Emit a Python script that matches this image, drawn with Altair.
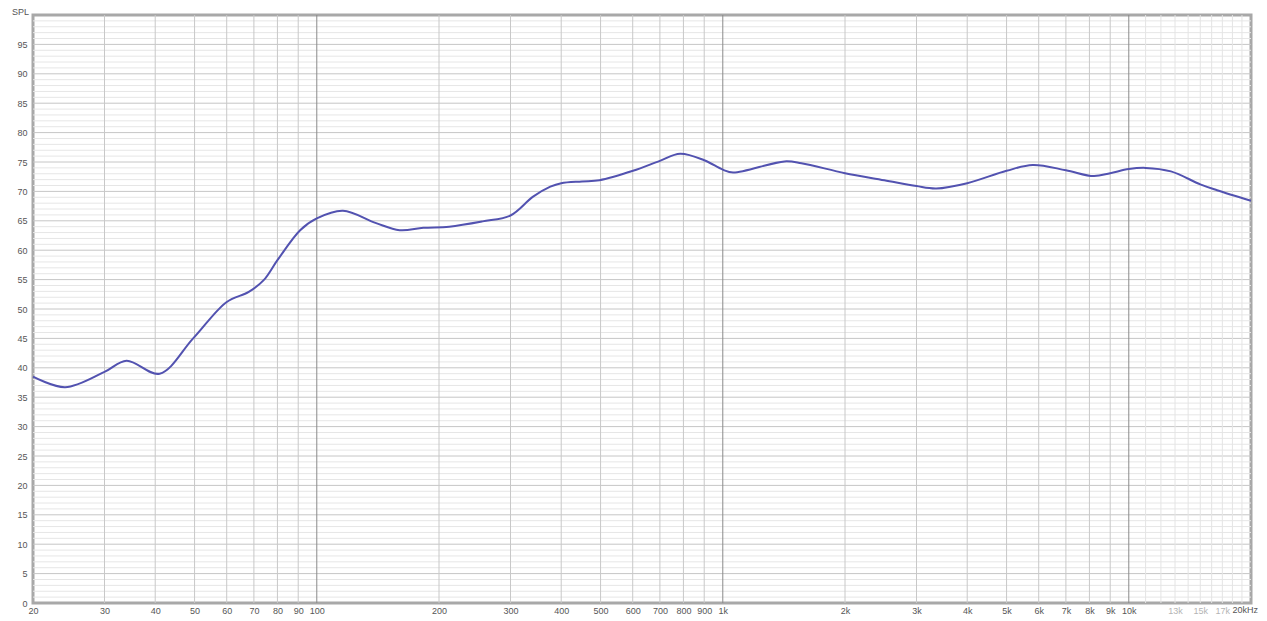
import altair as alt
import pandas as pd

# Frequency response (Hz, dB SPL)
freq = [20, 24, 30, 34, 41, 49.6, 60, 68, 74, 80, 91, 100, 116, 140, 160, 183, 212, 256,
        300, 341, 376, 400, 450, 497, 601, 700, 785, 900, 1000, 1060, 1419, 1562, 2000,
        2500, 3000, 3356, 4000, 5000, 5800, 7000, 8200, 9000, 10000, 11000, 12700, 15000,
        16500, 20000]
spl = [38.5, 36.7, 39.3, 41.2, 39.0, 45.0, 51.2, 52.9, 54.9, 58.3, 63.4, 65.4, 66.7, 64.6,
       63.4, 63.8, 64.0, 64.9, 65.9, 69.1, 70.8, 71.4, 71.7, 71.9, 73.5, 75.2, 76.4, 75.3,
       73.7, 73.2, 75.1, 74.8, 73.1, 71.9, 70.9, 70.5, 71.4, 73.5, 74.5, 73.6, 72.6, 73.1,
       73.8, 74.0, 73.4, 71.2, 70.2, 68.4]

x_tick_values = [20, 30, 40, 50, 60, 70, 80, 90, 100, 200, 300, 400, 500, 600, 700, 800,
                 900, 1000, 2000, 3000, 4000, 5000, 6000, 7000, 8000, 9000, 10000, 13000,
                 15000, 17000]
last_label_freq = [20000]
last_label_text = ["20kHz"]
y_tick_values = [0, 5, 10, 15, 20, 25, 30, 35, 40, 45, 50, 55, 60, 65, 70, 75, 80, 85, 90, 95]

v_grid = [30, 40, 50, 60, 70, 80, 90, 200, 300, 400, 500, 600, 700, 800, 900,
          2000, 3000, 4000, 5000, 6000, 7000, 8000, 9000]
v_grid_decade = [100, 1000, 10000]
v_grid_light = [11000, 12000, 13000, 14000, 15000, 16000, 17000, 18000, 19000]
h_major = [5, 10, 15, 20, 25, 30, 35, 40, 45, 50, 55, 60, 65, 70, 75, 80, 85, 90, 95]
h_minor = [v for v in range(1, 100) if v % 5 != 0]

FONT = "Liberation Sans"
FS = 9
LABEL = "#555555"

xscale = alt.Scale(type="log", domain=[20, 20000], nice=False)
yscale = alt.Scale(domain=[0, 100], nice=False, zero=False)

label_expr = ("datum.value >= 1000 ? (datum.value / 1000) + 'k' : '' + datum.value")

x_axis = alt.Axis(
    values=x_tick_values, title=None, grid=False, domain=False, ticks=False,
    labelExpr=label_expr, labelFont=FONT, labelFontSize=FS, labelPadding=3,
    labelColor={"condition": {"test": "datum.value == 13000 || datum.value == 15000 || datum.value == 17000",
                              "value": "#b4b4b4"}, "value": LABEL},
    labelOverlap=False, labelFlush=False, labelBound=False, labelAngle=0)
y_axis = alt.Axis(
    values=y_tick_values, title=None, grid=False, domain=False, ticks=False,
    labelFont=FONT, labelFontSize=FS, labelPadding=6, labelColor=LABEL,
    labelOverlap=False, labelFlush=False)

df = pd.DataFrame({"f": freq, "spl": spl})

minor_h = alt.Chart(pd.DataFrame({"y": h_minor})).mark_rule(
    color="#e6e6e6", strokeWidth=1).encode(y=alt.Y("y:Q", scale=yscale, axis=y_axis))
major_h = alt.Chart(pd.DataFrame({"y": h_major})).mark_rule(
    color="#c6c6c6", strokeWidth=1).encode(y=alt.Y("y:Q", scale=yscale, axis=y_axis))
light_v = alt.Chart(pd.DataFrame({"x": v_grid_light})).mark_rule(
    color="#e4e4e4", strokeWidth=1).encode(x=alt.X("x:Q", scale=xscale, axis=x_axis))
reg_v = alt.Chart(pd.DataFrame({"x": v_grid})).mark_rule(
    color="#c8c8c8", strokeWidth=1).encode(x=alt.X("x:Q", scale=xscale, axis=x_axis))
dec_v = alt.Chart(pd.DataFrame({"x": v_grid_decade})).mark_rule(
    color="#8a8a8a", strokeWidth=1).encode(x=alt.X("x:Q", scale=xscale, axis=x_axis))

line = alt.Chart(df).mark_line(
    color="#5252b0", strokeWidth=2, interpolate="catmull-rom").encode(
    x=alt.X("f:Q", scale=xscale, axis=x_axis),
    y=alt.Y("spl:Q", scale=yscale, axis=y_axis),
)

last_label = alt.Chart(pd.DataFrame({"f": last_label_freq, "t": last_label_text})).mark_text(
    font=FONT, fontSize=FS, color=LABEL, align="right", baseline="top", dx=7).encode(
    x=alt.X("f:Q", scale=xscale, axis=x_axis), y=alt.value(591), text="t:N")

spl_title = alt.Chart(pd.DataFrame({"t": ["SPL"]})).mark_text(
    font=FONT, fontSize=FS, color=LABEL, align="left", baseline="alphabetic").encode(
    x=alt.value(-21), y=alt.value(-0.5), text="t:N")

chart = alt.layer(minor_h, major_h, light_v, reg_v, dec_v, line, last_label, spl_title).properties(
    width=1218, height=588,
    autosize=alt.AutoSizeParams(type="none"),
    padding={"left": 25, "top": 7, "right": 8, "bottom": 13},
    background="white",
).configure_view(stroke="#a8a8a8", strokeWidth=3)

chart.save("out.html", embed_options={"renderer": "svg", "actions": False})
